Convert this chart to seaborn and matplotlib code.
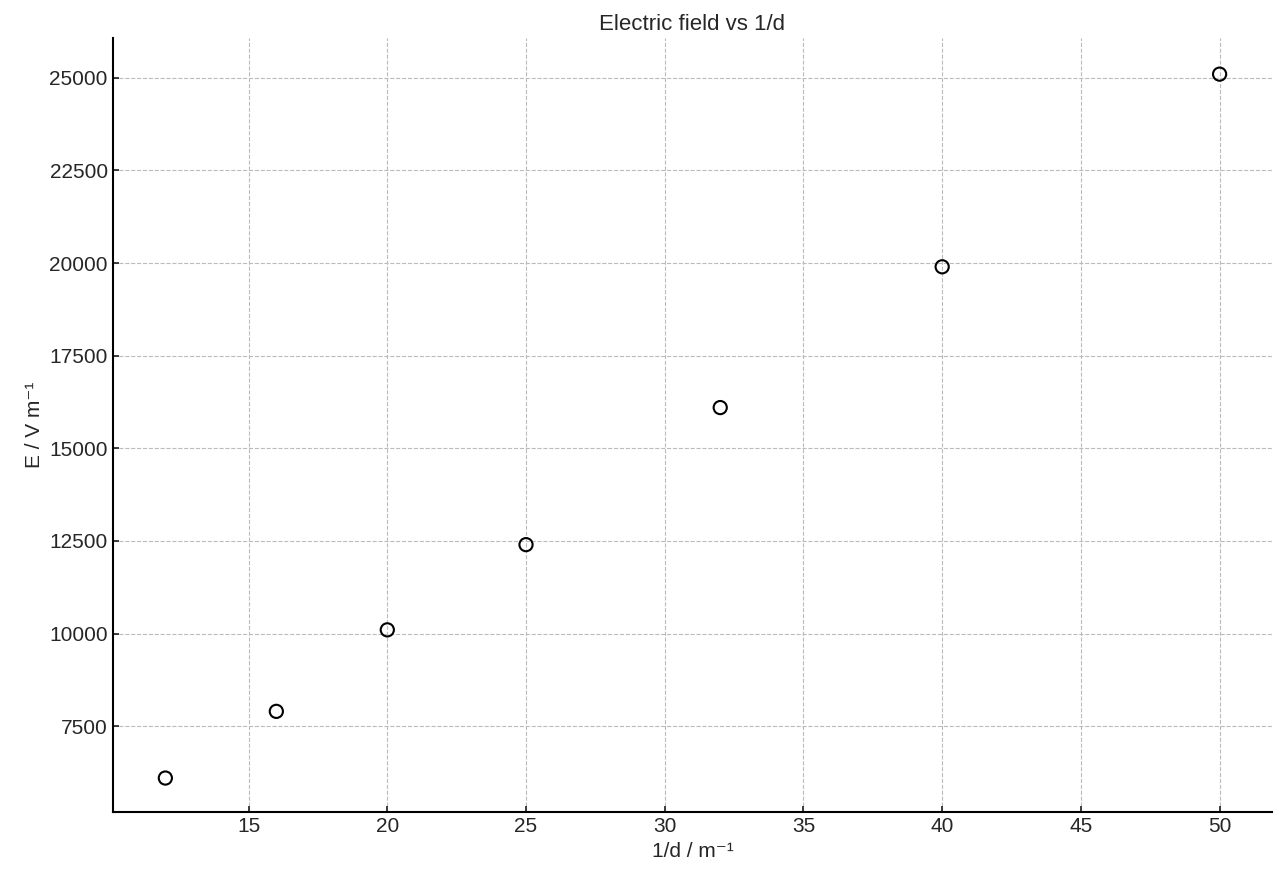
import matplotlib
matplotlib.use("Agg")
import matplotlib.pyplot as plt
import seaborn as sns
import pandas as pd

inv_d = [12, 16, 20, 25, 32, 40, 50]
field = [6100, 7900, 10100, 12400, 16100, 19900, 25100]

sns.set_theme(style="ticks")
plt.rcParams['font.family'] = ['Liberation Sans', 'DejaVu Sans']

df = pd.DataFrame({"x": inv_d, "y": field})
fig, ax = plt.subplots(figsize=(12.8, 8.8), dpi=100)
sns.scatterplot(data=df, x="x", y="y", ax=ax, s=90, facecolor="none",
                edgecolor="black", linewidth=1.5, zorder=3)
ax.set_xlim(10.1, 51.9)
ax.set_ylim(5177, 26080)
ax.set_xticks([15, 20, 25, 30, 35, 40, 45, 50])
ax.set_yticks([7500, 10000, 12500, 15000, 17500, 20000, 22500, 25000])
ax.grid(True, linestyle="--", color="#bbbbbb", linewidth=0.8)
ax.tick_params(direction="in", labelsize=15, length=4)
for s in ["top", "right"]:
    ax.spines[s].set_visible(False)
for s in ["left", "bottom"]:
    ax.spines[s].set_color("black")
    ax.spines[s].set_linewidth(1.5)
ax.set_xlabel("1/d / m⁻¹", fontsize=15)
ax.set_ylabel("E / V m⁻¹", fontsize=15)
ax.set_title("Electric field vs 1/d", fontsize=16)
fig.subplots_adjust(left=0.088, right=0.994, top=0.957, bottom=0.077)
fig.savefig("out.png", dpi=100)
